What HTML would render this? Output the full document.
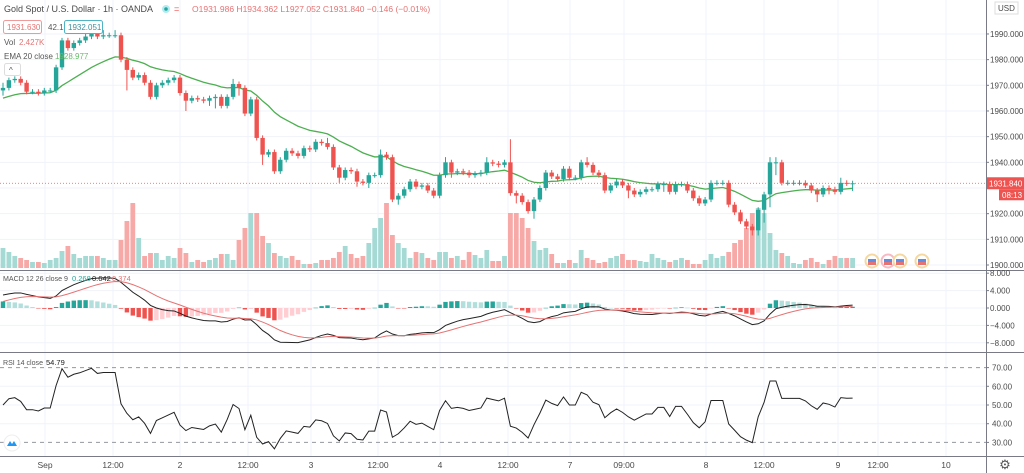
<!DOCTYPE html>
<html><head><meta charset="utf-8"><style>
html,body{margin:0;padding:0;background:#fff;width:1024px;height:473px;overflow:hidden;font-family:"Liberation Sans",sans-serif}
svg{display:block}
text{font-family:"Liberation Sans",sans-serif}
</style></head><body>
<svg id="c" width="1024" height="473"></svg>
<script>
const closes=[1969,1972,1972.5,1971,1967.5,1967.5,1967,1968,1968,1977,
1987.5,1984.5,1986.5,1987.5,1989,1990.5,1989,1989.5,1989.5,1989.5,
1980,1976,1973,1974,1971,1965.5,1970,1971,1972,1973,
1967,1964,1965,1964.5,1964,1965,1965.5,1962,1965.5,1970.5,
1969,1959,1964.5,1949.5,1943,1944,1936.5,1941,1944.5,1943.5,
1942.5,1945.5,1945,1948,1947.5,1946,1938,1934,1937,1936.5,
1932.5,1932,1935,1935,1943,1942,1925.5,1927,1929.5,1932.5,
1930.5,1931,1929,1927,1935,1940,1936,1936.5,1936,1935,
1935.5,1936,1940,1939.5,1939,1940,1928,1927,1924.5,1921,
1925.5,1930,1936,1934.5,1933.5,1937.5,1934,1934,1940,1939,
1936,1935,1929,1931,1932.5,1931,1929,1927.5,1928.5,1929.5,
1929.5,1931.5,1931.5,1928.5,1931.5,1931.5,1929,1926,1924,1925.5,
1932,1932,1932,1923.5,1920.5,1917,1915,1913.5,1921.5,1927.5,
1940,1940,1932,1932,1932,1932,1931,1929,1927.5,1930,
1929.5,1928.5,1932,1931.8,1931.84];
const wickUp=[2,1,1,1,1,1,1,1,1,1,1,1,1,1,1,1,1,2,1,2,1,1,1,1,1,1,1,1,1,1,1,1,1,1,1,1,1,1,1,2,1,1,1,1,1,1,1,1,1,1,1,1,1,1,1,2,1,1,1,1,1,1,1,1,2,1,1,1,1,1,1,1,1,1,1,2,1,1,1,1,1,1,2,1,1,1,9,1,1,1,1,1,1,1,1,1,1,1,1,2,1,1,1,1,1,1,1,1,1,1,1,1,1,1,1,1,1,1,1,1,1,1,1,1,1,1,1,1,1,1,2,2,1,1,1,1,1,1,1,1,1,1,2,1,1];
const wickDn=[2,1,1,1,1,1,1,1,1,1,1,1,1,1,1,1,1,1,1,1,1,8,1,1,1,1,1,1,1,1,1,4,1,1,1,2,4,1,1,1,3,1,1,1,4,1,1,1,1,1,1,1,1,1,1,1,1,2,1,1,2,1,2,1,1,1,1,2,1,1,1,1,1,1,1,1,2,1,1,1,1,1,1,1,1,1,1,3,1,1,3,1,1,1,1,1,1,1,1,1,1,1,1,1,1,1,3,1,1,1,1,1,3,1,1,1,1,1,1,1,1,1,1,1,1,1,1,2,2,5,5,5,1,1,1,1,1,1,3,1,2,1,1,1,3,2];
const vols=[20,16,12,10,8,6,6,5,8,10,17,22,14,10,12,12,12,10,8,8,
28,47,65,30,12,15,15,8,12,10,20,15,6,8,6,8,10,14,14,8,
28,40,55,55,32,25,15,12,10,12,8,4,4,5,8,8,10,16,22,14,
10,12,25,40,50,65,33,25,20,10,16,15,10,8,16,16,10,12,8,16,
13,10,18,7,7,12,55,55,50,40,27,18,20,14,5,5,8,5,18,10,
8,5,6,10,12,14,8,8,7,6,14,10,8,6,8,10,8,4,4,8,
14,10,12,16,25,28,40,55,60,55,35,18,15,12,5,4,8,10,6,4,8,12,10,10,10];
const priceTicks=[1990,1980,1970,1960,1950,1940,1920,1910,1900];
const macdTicks=[8,4,0,-4,-8];
const rsiTicks=[70,60,50,40,30];
const timeLabels=["Sep","12:00","2","12:00","3","12:00","4","12:00","7","09:00","8","12:00","9","12:00","10"];
const timeX=[45,113,180,248,311,378,440,508,570,624,706,764,838,878,946];

const NS="http://www.w3.org/2000/svg";
const svg=document.getElementById('c');
function mk(t,a,p){const e=document.createElementNS(NS,t);for(const k in a)e.setAttribute(k,a[k]);(p||svg).appendChild(e);return e;}
const xOf=i=>3+i*5.9;
const yP=p=>265-(p-1900)*2.567;
const yM=v=>308-v*4.35;
const yR=v=>405-(v-50)*1.87;
const yV=v=>268-v;
const GREEN="#26a69a",RED="#ef5350";

const grid=mk('g',{});

timeX.forEach(x=>mk('line',{x1:x,x2:x,y1:0,y2:456,stroke:'#f0f3fa'},grid));
priceTicks.forEach(p=>mk('line',{x1:0,x2:986,y1:yP(p),y2:yP(p),stroke:'#f0f3fa'},grid));
mk('line',{x1:0,x2:986,y1:yP(1930),y2:yP(1930),stroke:'#f0f3fa'},grid);
macdTicks.forEach(v=>mk('line',{x1:0,x2:986,y1:yM(v),y2:yM(v),stroke:'#f0f3fa'},grid));
[60,50,40].forEach(v=>mk('line',{x1:0,x2:986,y1:yR(v),y2:yR(v),stroke:'#f0f3fa'},grid));
[70,30].forEach(v=>mk('line',{x1:0,x2:986,y1:yR(v),y2:yR(v),stroke:'#9598a1','stroke-dasharray':'4,4'},grid));

const vg=mk('g',{});
closes.forEach((c,i)=>{const o=i?closes[i-1]:c-1;const up=c>=o;
 const r=mk('rect',{x:xOf(i)-2.4,y:yV(vols[i]),width:4.8,height:vols[i],fill:up?'#a5d9d4':'#f7a9a8'},vg);
 });

const ema=[];closes.forEach((c,i)=>{ema.push(i?ema[i-1]+(c-ema[i-1])*2/21:c-4);});
const ep=mk('polyline',{points:ema.map((v,i)=>xOf(i)+','+yP(v)).join(' '),fill:'none',stroke:'#4caf50','stroke-width':1.3});


const cg=mk('g',{});
closes.forEach((c,i)=>{const o=i?closes[i-1]:c-1;const up=c>=o;const col=up?GREEN:RED;const x=xOf(i);
 const hi=Math.max(o,c)+wickUp[i],lo=Math.min(o,c)-wickDn[i];
 mk('line',{x1:x,x2:x,y1:yP(hi),y2:yP(lo),stroke:col,'stroke-width':1},cg);
 const t=yP(Math.max(o,c)),h=Math.max(1,yP(Math.min(o,c))-t);
 const r=mk('rect',{x:x-2.2,y:t,width:4.4,height:h,fill:col},cg);
 });

const last=closes[closes.length-1];
mk('line',{x1:0,x2:986,y1:yP(last),y2:yP(last),stroke:'#ef5350','stroke-dasharray':'1,2','stroke-width':0.8});

function emaArr(a,n,seed){const r=[];a.forEach((v,i)=>r.push(i?r[i-1]+(v-r[i-1])*2/(n+1):seed));return r;}
const e12=emaArr(closes,12,closes[0]-3),e26=emaArr(closes,26,closes[0]-6);
const macd=e12.map((v,i)=>v-e26[i]);const sig=emaArr(macd,9,1.5);
const hg=mk('g',{});
macd.forEach((m,i)=>{const h=m-sig[i];const ph=i?macd[i-1]-sig[i-1]:0;
 const col=h>=0?(h>=ph?GREEN:'#b2dfdb'):(h<ph?RED:'#ffcdd2');
 const y1=yM(Math.max(h,0)),y2=yM(Math.min(h,0));
 mk('rect',{x:xOf(i)-2.2,y:y1,width:4.4,height:Math.max(0.5,y2-y1),fill:col},hg);});
const ml=mk('polyline',{points:macd.map((v,i)=>xOf(i)+','+yM(v)).join(' '),fill:'none',stroke:'#222','stroke-width':1});

const sl=mk('polyline',{points:sig.map((v,i)=>xOf(i)+','+yM(v)).join(' '),fill:'none',stroke:'#e57373','stroke-width':1});


const rsi=[];let ag=1.6,al=1.6;
closes.forEach((c,i)=>{if(i){const d=c-closes[i-1];ag=(ag*13+Math.max(d,0))/14;al=(al*13+Math.max(-d,0))/14;}
 rsi.push(100-100/(1+ag/al));});
const rl=mk('polyline',{points:rsi.map((v,i)=>xOf(i)+','+yR(v)).join(' '),fill:'none',stroke:'#222','stroke-width':1});


mk('line',{x1:0,x2:1024,y1:270.5,y2:270.5,stroke:'#787b86'});
mk('line',{x1:0,x2:1024,y1:352.5,y2:352.5,stroke:'#787b86'});
mk('line',{x1:0,x2:1024,y1:456.5,y2:456.5,stroke:'#787b86'});
mk('line',{x1:986.5,x2:986.5,y1:0,y2:473,stroke:'#787b86'});
const ax=mk('g',{'font-size':8,fill:'#4a4a4a'});
priceTicks.forEach(p=>{mk('line',{x1:986,x2:989,y1:yP(p),y2:yP(p),stroke:'#787b86'},ax);const t=mk('text',{x:990,y:yP(p)+3},ax);t.textContent=p.toFixed(3);});
macdTicks.forEach(v=>{mk('line',{x1:986,x2:989,y1:yM(v),y2:yM(v),stroke:'#787b86'},ax);const t=mk('text',{x:990,y:yM(v)+3},ax);t.textContent=(v<0?'\u2212':'')+Math.abs(v).toFixed(3);});
rsiTicks.forEach(v=>{mk('line',{x1:986,x2:989,y1:yR(v),y2:yR(v),stroke:'#787b86'},ax);const t=mk('text',{x:992,y:yR(v)+3},ax);t.textContent=v.toFixed(2);});
mk('rect',{x:995,y:2,width:23,height:12,fill:'#fff',stroke:'#ddd'},ax);
const usd=mk('text',{x:998,y:11},ax);usd.textContent='USD';
const lr=mk('rect',{x:987,y:yP(last)-6,width:37,height:12,fill:'#ef5350'});
const lt=mk('text',{x:989,y:yP(last)+3,'font-size':8,fill:'#fff'});lt.textContent=last.toFixed(3);
mk('rect',{x:999,y:yP(last)+6,width:25,height:11,fill:'#ef5350'});
const ct=mk('text',{x:1002,y:yP(last)+14.5,'font-size':8,fill:'#fff'});ct.textContent='08:13';
const tg=mk('g',{'font-size':8.5,fill:'#4a4a4a','text-anchor':'middle'});
timeLabels.forEach((l,i)=>{const t=mk('text',{x:timeX[i],y:468},tg);t.textContent=l;});
const gear=mk('text',{x:1005,y:469,'font-size':13,fill:'#555','text-anchor':'middle'});gear.textContent='\u2699';


[[872,'#f5d7a0'],[888,'#f7b9c3'],[900,'#f5d7a0'],[922,'#f5d7a0']].forEach(([x,f])=>{
 const e=mk('circle',{cx:x,cy:261,r:6.5,fill:'#fff',stroke:f,'stroke-width':2});
 mk('path',{d:`M${x-4},${262} h8 v3 h-8z`,fill:'#e57373'});mk('path',{d:`M${x-4},${259} h8 v3 h-8z`,fill:'#5c8ee6'});});

function txt(x,y,s,fill,size,name,inter){const t=mk('text',{x:x,y:y,'font-size':size||10,fill:fill});t.textContent=s;if(name){}return t;}
txt(4,12,'Gold Spot / U.S. Dollar · 1h · OANDA','#4a4a4a',9,'chart-title',false);
mk('circle',{cx:166,cy:9,r:4,fill:'#b2ebf2'});mk('circle',{cx:166,cy:9,r:1.8,fill:'#26a69a'});
txt(174,12,'=','#ef5350',9);
txt(192,12,'O1931.986 H1934.362 L1927.052 C1931.840 −0.146 (−0.01%)','#e57373',8.5,'ohlc-values',false);
mk('rect',{x:3.5,y:20.5,width:38,height:13,rx:2,fill:'#fff',stroke:'#ef9a9a'});
txt(7,30,'1931.630','#e57373',8,'bid-price',true);
txt(48,30,'42.1','#555',8);
mk('rect',{x:64.5,y:20.5,width:38,height:13,rx:2,fill:'#fff',stroke:'#4fb3c4'});
txt(68,30,'1932.051','#3a8fa0',8,'ask-price',true);
txt(4,45,'Vol','#555',8,'volume-legend',false);txt(19,45,'2.427K','#e57373',8);
txt(4,59,'EMA 20 close','#555',8,'ema-legend',false);txt(55,59,'1928.977','#66bb6a',8);
const cb=mk('rect',{x:4.5,y:63.5,width:16,height:12,rx:2,fill:'#fff',stroke:'#ddd'});
txt(9,73,'^','#555',8);
const mlg=txt(3,281,'MACD 12 26 close 9','#555',7.5,'macd-legend',false);mlg.setAttribute('textLength','65');mlg.setAttribute('lengthAdjust','spacingAndGlyphs');
txt(72,281,'0.268','#26a69a',7.5);txt(92,281,'0.642','#222',7.5);txt(112,281,'0.374','#e57373',7.5);
const rlg=txt(3,365,'RSI 14 close','#555',7.5,'rsi-legend',false);rlg.setAttribute('textLength','40');rlg.setAttribute('lengthAdjust','spacingAndGlyphs');
txt(46,365,'54.79','#222',7.5);
const lg=mk('circle',{cx:12,cy:443,r:8,fill:'#fff',stroke:'#eee'});
mk('path',{d:'M7,446 l3,-5 l2,3 l2,-3 l3,5 z',fill:'#2196f3'});
</script>
</body></html>
